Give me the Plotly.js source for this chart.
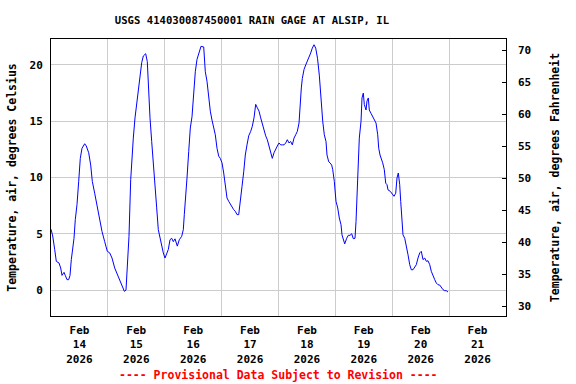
<!DOCTYPE html>
<html>
<head>
<meta charset="utf-8">
<script src="https://cdn.plot.ly/plotly-3.0.1.min.js"></script>
<style>html,body{margin:0;padding:0;background:#fff;}#chart{width:576px;height:384px;}</style>
</head>
<body>
<div id="chart"></div>
<script>
// Hours since 2026-02-14 00:00 (local station time)
var hoursSinceStart = [0,0.72,1.56,2.24,3.38,4.09,4.64,5.49,6.03,6.75,7.47,8.02,8.57,9.28,9.71,10.25,10.97,11.69,12.36,13.08,14.22,14.9,15.91,16.75,17.43,18.44,19.54,20.55,21.52,22.66,23.76,24.77,25.74,26.88,28.15,29.12,30.09,30.97,31.65,32.2,32.91,33.63,34.05,34.73,35.45,36.16,36.84,37.56,38.27,38.95,39.96,40.64,41.06,41.78,42.49,43.17,43.89,44.6,45.28,46.0,46.71,47.39,48.1,48.82,49.5,50.22,50.93,51.61,52.33,53.3,54.14,55.15,55.83,56.25,56.97,57.39,58.11,58.78,59.5,60.22,60.89,61.61,62.33,63.3,64.44,65.11,65.83,66.55,67.22,67.94,68.66,69.33,70.05,70.77,71.44,72.16,72.88,73.55,74.27,74.99,75.66,76.38,77.1,77.77,78.49,79.21,79.88,80.6,81.32,81.99,82.71,83.43,84.27,84.95,85.66,86.38,87.06,87.77,88.49,89.17,89.88,90.6,91.28,91.99,92.71,93.39,94.1,94.82,95.5,96.21,96.93,97.61,98.33,99.04,99.72,100.44,101.15,101.83,102.55,103.26,103.94,104.66,105.08,105.63,106.05,106.77,107.48,108.16,108.88,109.59,110.27,110.99,111.7,112.46,113.22,113.65,113.94,114.66,115.33,116.05,116.47,117.19,117.74,118.45,118.88,119.55,120.27,120.99,121.66,122.38,122.8,123.35,123.94,124.78,125.46,126.17,126.89,127.57,128.28,128.71,129.13,129.55,130.1,130.82,131.24,131.79,132.21,132.93,133.35,133.9,134.32,135.04,135.76,136.43,137.15,137.87,138.29,138.84,139.55,139.97,140.65,141.24,141.79,142.21,143.18,144.02,144.74,145.46,146.01,146.56,147.15,147.57,148.12,148.54,149.26,149.93,150.65,151.37,152.04,152.76,153.48,154.15,154.87,155.59,156.26,156.98,157.7,158.37,159.09,159.81,160.48,161.2,161.92,162.59,163.31,164.03,164.7,165.42,166.14,166.81,167.53];

// Air temperature, degrees Celsius
var tempC = [5.4,4.8,3.6,2.55,2.4,1.96,1.3,1.57,1.3,0.92,0.92,1.3,2.7,3.73,4.6,6.25,7.6,9.66,11.7,12.6,13.0,12.8,12.2,11.1,9.66,8.6,7.3,6.1,5.2,4.3,3.44,3.3,2.84,1.96,1.3,0.77,0.33,-0.12,0.0,2.25,4.77,9.8,11.4,13.5,15.3,16.5,17.96,19.1,20.2,20.8,21.0,20.3,18.0,15.3,13.2,11.0,9.07,7.3,5.36,4.6,3.9,3.3,2.84,3.2,3.6,4.47,4.6,4.3,4.55,3.9,4.47,4.77,5.36,6.7,8.47,9.96,12.3,14.4,15.4,17.4,19.4,20.5,21.07,21.66,21.6,19.4,18.55,17.07,15.9,15.1,14.4,13.8,12.6,11.9,11.7,11.3,10.4,9.07,8.18,7.88,7.64,7.29,7.14,7.0,6.7,6.7,7.73,9.2,10.5,12.0,12.9,13.7,14.1,14.55,15.3,16.5,16.2,15.9,15.3,14.7,14.1,13.7,13.36,12.8,12.3,11.7,12.2,12.6,12.8,13.07,12.9,12.9,12.9,13.07,13.36,13.07,13.2,12.9,13.5,13.8,14.1,14.84,16.5,17.96,18.8,19.6,20.0,20.3,20.6,21.07,21.5,21.8,21.5,20.6,19.1,17.96,16.5,15.0,13.8,13.2,12.0,11.4,11.3,11.1,10.7,9.66,7.88,7.29,6.4,5.8,4.9,4.47,4.1,4.6,4.86,4.86,5.0,4.56,4.6,6.1,8.18,10.55,13.5,15.0,17.07,17.5,16.5,16.0,16.8,17.07,16.0,15.7,15.4,15.1,14.84,13.8,12.6,12.0,11.6,11.3,10.7,9.5,9.36,8.9,8.77,8.53,8.33,8.6,9.96,10.4,9.36,7.88,6.4,4.9,4.6,4.0,3.14,2.25,1.8,1.8,2.0,2.25,2.84,3.3,3.44,2.7,2.84,2.55,2.6,2.25,1.66,1.36,0.92,0.62,0.47,0.44,0.18,0.03,-0.06,-0.06,-0.18];

var dayBoundaries = ["2026-02-15","2026-02-16","2026-02-17","2026-02-18","2026-02-19","2026-02-20","2026-02-21"];
var dayLabelDates = ["2026-02-14 12:00","2026-02-15 12:00","2026-02-16 12:00","2026-02-17 12:00","2026-02-18 12:00","2026-02-19 12:00","2026-02-20 12:00","2026-02-21 12:00"];
var dayLabels = ["Feb<br>14<br>2026","Feb<br>15<br>2026","Feb<br>16<br>2026","Feb<br>17<br>2026","Feb<br>18<br>2026","Feb<br>19<br>2026","Feb<br>20<br>2026","Feb<br>21<br>2026"];
var celsiusTicks = [0,5,10,15,20];
var fahrenheitTicks = [30,35,40,45,50,55,60,65,70];

var xRange = ["2026-02-14 00:00","2026-02-22 00:00"];
var base = Date.UTC(2026,1,14,0,0,0);
var times = hoursSinceStart.map(function(h){
  return new Date(base + Math.round(h*3600000)).toISOString().slice(0,19).replace('T',' ');
});
var tempF = tempC.map(function(c){ return c*9/5+32; });

var mono = "'DejaVu Sans Mono', 'Liberation Mono', monospace";

var traces = [
  {x: times, y: tempC, type: 'scatter', mode: 'lines', line: {color: '#0000ff', width: 1}, hoverinfo: 'skip', showlegend: false, xaxis: 'x', yaxis: 'y'},
  {x: times, y: tempF, type: 'scatter', mode: 'lines', line: {color: 'rgba(0,0,0,0)', width: 0}, hoverinfo: 'skip', showlegend: false, xaxis: 'x2', yaxis: 'y2'}
];

var layout = {
  width: 576, height: 384,
  margin: {l: 51, r: 70, t: 39, b: 68, pad: 0},
  paper_bgcolor: '#ffffff', plot_bgcolor: '#ffffff',
  showlegend: false,
  font: {family: mono, size: 11, color: '#000000', weight: 'bold'},
  title: {text: 'USGS 414030087450001 RAIN GAGE AT ALSIP, IL', font: {family: mono, size: 10.6, color: '#000', weight: 'bold'}, x: 252/576, xanchor: 'center', xref: 'container', y: 1 - 20/384, yanchor: 'middle'},
  xaxis: {
    type: 'date', range: xRange, tickmode: 'array', tickvals: dayBoundaries,
    showticklabels: false, ticks: '', showgrid: true, gridcolor: '#cccccc', gridwidth: 1,
    showline: true, linecolor: '#000000', linewidth: 1, mirror: true, zeroline: false, fixedrange: true
  },
  xaxis2: {
    type: 'date', range: xRange, overlaying: 'x', side: 'bottom', anchor: 'y',
    tickmode: 'array', tickvals: dayLabelDates, ticktext: dayLabels,
    ticks: '', showgrid: false, showline: false, zeroline: false, ticklabelstandoff: 6,
    tickfont: {family: mono, size: 11, color: '#000', weight: 'bold'}, fixedrange: true
  },
  yaxis: {
    range: [-2.31, 22.31], tickmode: 'array', tickvals: celsiusTicks,
    ticks: '', showgrid: true, gridcolor: '#cccccc', gridwidth: 1,
    showline: true, linecolor: '#000000', linewidth: 1, mirror: true, zeroline: false,
    ticklabelstandoff: 5,
    tickfont: {family: mono, size: 11, color: '#000', weight: 'bold'},
    title: {text: 'Temperature, air, degrees Celsius', font: {family: mono, size: 11.5, color: '#000', weight: 'bold'}, standoff: 10},
    fixedrange: true
  },
  yaxis2: {
    range: [28.44, 71.72], overlaying: 'y', side: 'right', anchor: 'x',
    tickmode: 'array', tickvals: fahrenheitTicks,
    ticks: 'inside', ticklen: 4, tickcolor: '#000000', tickwidth: 1,
    showgrid: false, showline: false, zeroline: false, ticklabelstandoff: 11,
    tickfont: {family: mono, size: 11, color: '#000', weight: 'bold'},
    title: {text: 'Temperature, air, degrees Fahrenheit', font: {family: mono, size: 11.5, color: '#000', weight: 'bold'}, standoff: 20},
    fixedrange: true
  },
  annotations: [
    {text: '---- Provisional Data Subject to Revision ----', xref: 'paper', yref: 'paper', x: 0.5, y: (316-375)/277, xanchor: 'center', yanchor: 'middle', showarrow: false, font: {family: mono, size: 11.5, color: '#ff0000', weight: 'bold'}}
  ]
};

Plotly.newPlot('chart', traces, layout, {staticPlot: true, displayModeBar: false});
</script>
</body>
</html>
